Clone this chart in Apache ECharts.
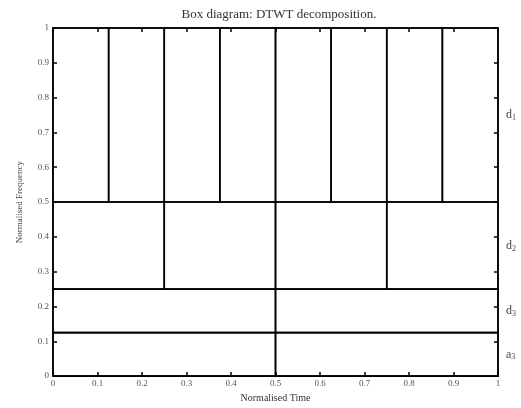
<!DOCTYPE html>
<html><head><meta charset="utf-8">
<script src="https://cdn.jsdelivr.net/npm/echarts@6/dist/echarts.min.js"></script>
<style>html,body{margin:0;padding:0;background:#fff}#c{width:521px;height:408px}</style>
</head><body><div id="c"></div>
<script>
const title = 'Box diagram: DTWT decomposition.';
const xName = 'Normalised Time';
const yName = 'Normalised Frequency';
const tickValues = [0, 0.1, 0.2, 0.3, 0.4, 0.5, 0.6, 0.7, 0.8, 0.9, 1];
// bands: name (base, subscript), frequency range, time splits
const bandBase = ['d', 'd', 'd', 'a'];
const bandSub = ['1', '2', '3', '3'];
const bandLow = [0.5, 0.25, 0.125, 0];
const bandHigh = [1, 0.5, 0.25, 0.125];
const bandSplits = [
  [0.125, 0.25, 0.375, 0.5, 0.625, 0.75, 0.875],
  [0.25, 0.5, 0.75],
  [0.5],
  [0.5]
];

const cells = [];
bandLow.forEach((lo, i) => {
  const edges = [0].concat(bandSplits[i], [1]);
  for (let k = 0; k < edges.length - 1; k++) cells.push([edges[k], edges[k + 1], lo, bandHigh[i]]);
});
const labelData = bandLow.map((lo, i) => [1, (lo + bandHigh[i]) / 2, i]);

const font = "'Liberation Serif','DejaVu Serif',serif";
const fmt = v => String(tickValues.find(t => Math.abs(t - v) < 1e-9) ?? +v.toFixed(1));
const axisCommon = () => ({
  type: 'value', min: 0, max: 1, interval: 0.1,
  axisLine: { show: true, onZero: false, lineStyle: { color: '#000', width: 1.5 } },
  axisTick: { show: true, inside: true, length: 4, lineStyle: { color: '#000', width: 1.5 } },
  splitLine: { show: false }
});
const chart = echarts.init(document.getElementById('c'));
chart.setOption({
  animation: false,
  title: { text: title, left: 274, top: 3, textAlign: 'center',
    textStyle: { fontFamily: font, fontSize: 13, fontWeight: 'normal', color: '#333' } },
  grid: { left: 53, right: 23, top: 28, bottom: 30 },
  xAxis: [
    Object.assign(axisCommon(), { position: 'bottom', name: xName, nameLocation: 'middle', nameGap: 16,
      nameTextStyle: { fontFamily: font, fontSize: 10, color: '#333' },
      axisLabel: { fontFamily: font, fontSize: 9, color: '#555', margin: 3, formatter: fmt } }),
    Object.assign(axisCommon(), { position: 'top', axisLabel: { show: false } })
  ],
  yAxis: [
    Object.assign(axisCommon(), { position: 'left', name: yName, nameLocation: 'middle', nameGap: 29,
      nameTextStyle: { fontFamily: font, fontSize: 9, color: '#444' },
      axisLabel: { fontFamily: font, fontSize: 9, color: '#555', margin: 4, formatter: fmt } }),
    Object.assign(axisCommon(), { position: 'right', axisLabel: { show: false } })
  ],
  series: [
    {
      type: 'custom', data: cells, silent: true,
      renderItem: (params, api) => {
        const p0 = api.coord([api.value(0), api.value(3)]);
        const p1 = api.coord([api.value(1), api.value(2)]);
        return { type: 'rect', shape: { x: p0[0], y: p0[1], width: p1[0] - p0[0], height: p1[1] - p0[1] },
          style: { fill: 'none', stroke: '#000', lineWidth: 1.6 } };
      }
    },
    {
      type: 'custom', data: labelData, silent: true,
      renderItem: (params, api) => {
        const i = api.value(2);
        const p = api.coord([api.value(0), api.value(1)]);
        return { type: 'text', x: p[0] + 8, y: p[1],
          style: { text: '{b|' + bandBase[i] + '}{s|' + bandSub[i] + '}', verticalAlign: 'middle', align: 'left',
            rich: { b: { fontFamily: font, fontSize: 12, fill: '#444', color: '#444' },
                    s: { fontFamily: font, fontSize: 8, fill: '#444', color: '#444', padding: [6, 0, 0, 0] } } } };
      }
    }
  ]
});
</script></body></html>
